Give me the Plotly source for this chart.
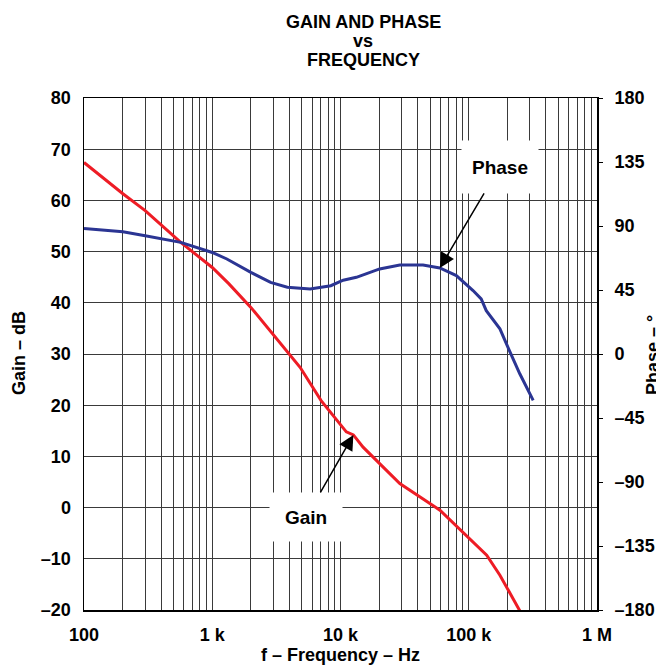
import math
import plotly.graph_objects as go

# ---- data ----
gain_freq = [100, 201, 300, 568, 1000, 1350, 2000, 4840, 7060, 11100, 12600,
             15000, 20200, 29000, 59600, 100000, 138000, 175000, 252000]
gain_db = [67.4, 61.3, 58.0, 51.8, 46.9, 43.7, 39.1, 27.4, 20.9, 14.8, 14.2,
           11.8, 8.6, 4.7, -0.5, -6.0, -9.3, -13.2, -20.3]

phase_freq = [100, 201, 300, 568, 1000, 1300, 2000, 2850, 3850, 5800, 8400, 10500,
              13300, 20200, 29000, 44000, 59500, 80000, 108000, 125000, 137000,
              175000, 210000, 250000, 318000]
phase_deg = [88.3, 86.0, 83.2, 78.5, 71.4, 66.8, 57.4, 50.4, 46.9, 45.7, 48.0, 51.9,
             53.9, 59.8, 62.6, 62.6, 60.5, 55.1, 44.6, 38.7, 30.5,
             17.7, 1.3, -13.9, -32.6]

x_tick_vals = [100, 1000, 10000, 100000, 1000000]
x_tick_text = ["100", "1 k", "10 k", "100 k", "1 M"]
x_minor_vals = [m * 10 ** d for d in range(2, 6) for m in range(2, 10)]

gain_tick_vals = [-20, -10, 0, 10, 20, 30, 40, 50, 60, 70, 80]
gain_tick_text = ["\u201320", "\u201310", "0", "10", "20", "30", "40", "50", "60", "70", "80"]

phase_tick_vals = [-180, -135, -90, -45, 0, 45, 90, 135, 180]
phase_tick_text = ["\u2013180", "\u2013135", "\u201390", "\u201345", "0", "45", "90", "135", "180"]

GAIN_ARROW_IDX = 10   # point on gain curve the "Gain" label points to
PHASE_ARROW_IDX = 16  # point on phase curve the "Phase" label points to

# ---- layout geometry ----
W, H = 656, 667
ML, MR, MT, MB = 84, 59, 98, 57
PW, PH = W - ML - MR, H - MT - MB


def px(xp):
    return (xp - ML) / PW


def py(yp):
    return (H - MB - yp) / PH


FONT = "Liberation Sans, Arial, sans-serif"
RED = "#EE1C25"
BLUE = "#2B3593"
GRID = "#3a3a3a"

fig = go.Figure()
fig.add_trace(go.Scatter(x=gain_freq, y=gain_db, mode="lines",
                         line=dict(color=RED, width=3), yaxis="y", showlegend=False))
fig.add_trace(go.Scatter(x=phase_freq, y=phase_deg, mode="lines",
                         line=dict(color=BLUE, width=3), yaxis="y2", showlegend=False))

tickfont = dict(family=FONT, size=18, color="black", weight="bold")

fig.update_layout(
    width=W, height=H,
    margin=dict(l=ML, r=MR, t=MT, b=MB, autoexpand=False),
    paper_bgcolor="white", plot_bgcolor="white",
    hovermode=False,
    xaxis=dict(type="log", range=[2, 6], tickvals=x_tick_vals, ticktext=x_tick_text,
               showgrid=True, gridcolor=GRID, gridwidth=1, automargin=False,
               minor=dict(tickvals=x_minor_vals, showgrid=True, gridcolor=GRID,
                          gridwidth=1, ticks=""),
               showline=True, linecolor="black", linewidth=1.5, mirror=True,
               ticks="", tickfont=tickfont, ticklabelstandoff=8, zeroline=False),
    yaxis=dict(range=[-20, 80], tickvals=gain_tick_vals, ticktext=gain_tick_text,
               showgrid=True, gridcolor=GRID, gridwidth=1, automargin=False,
               showline=True, linecolor="black", linewidth=1.5, mirror=True,
               ticks="", tickfont=tickfont, ticklabelstandoff=8, zeroline=False),
    yaxis2=dict(range=[-180, 180], tickvals=phase_tick_vals, ticktext=phase_tick_text,
                overlaying="y", side="right", showgrid=False, zeroline=False,
                automargin=False,
                showline=False, ticks="outside", ticklen=5, tickcolor="black",
                tickwidth=1, tickfont=tickfont, ticklabelstandoff=8),
)

ann = []
# title
for text, yp in [("GAIN AND PHASE", 22), ("vs", 41), ("FREQUENCY", 60)]:
    ann.append(dict(text="<b>%s</b>" % text, xref="paper", yref="paper",
                    x=px(363), y=py(yp), xanchor="center", yanchor="middle",
                    showarrow=False, font=dict(family=FONT, size=18, color="black")))
# axis titles
ann.append(dict(text="<b>f \u2013 Frequency \u2013 Hz</b>", xref="paper", yref="paper",
                x=px(340), y=py(655), xanchor="center", yanchor="middle",
                showarrow=False, font=dict(family=FONT, size=18, color="black")))
ann.append(dict(text="<b>Gain \u2013 dB</b>", xref="paper", yref="paper",
                x=px(19), y=py(353), xanchor="center", yanchor="middle", textangle=-90,
                showarrow=False, font=dict(family=FONT, size=18, color="black")))
ann.append(dict(text="<b>Phase \u2013 \u00b0</b>", xref="paper", yref="paper",
                x=px(653), y=py(355), xanchor="center", yanchor="middle", textangle=-90,
                showarrow=False, font=dict(family=FONT, size=18, color="black")))

# curve labels with arrows
ann.append(dict(text="<b>Gain</b>", x=math.log10(gain_freq[GAIN_ARROW_IDX]),
                y=gain_db[GAIN_ARROW_IDX], xref="x", yref="y",
                ax=-47, ay=82, axref="pixel", ayref="pixel",
                showarrow=True, arrowhead=2, arrowsize=2, arrowwidth=1.5,
                arrowcolor="black", bgcolor="white", width=70, height=46,
                font=dict(family=FONT, size=19, color="black")))
ann.append(dict(text="<b>Phase</b>", x=math.log10(phase_freq[PHASE_ARROW_IDX]),
                y=phase_deg[PHASE_ARROW_IDX], xref="x", yref="y2",
                ax=60, ay=-101, axref="pixel", ayref="pixel",
                showarrow=True, arrowhead=2, arrowsize=2, arrowwidth=1.5,
                arrowcolor="black", bgcolor="white", width=74, height=50,
                font=dict(family=FONT, size=19, color="black")))

fig.update_layout(annotations=ann)
fig.write_html(
    "out.html",
    config={"displayModeBar": False, "staticPlot": True},
    post_script="document.body.style.margin='0';document.body.style.overflow='hidden';",
)
